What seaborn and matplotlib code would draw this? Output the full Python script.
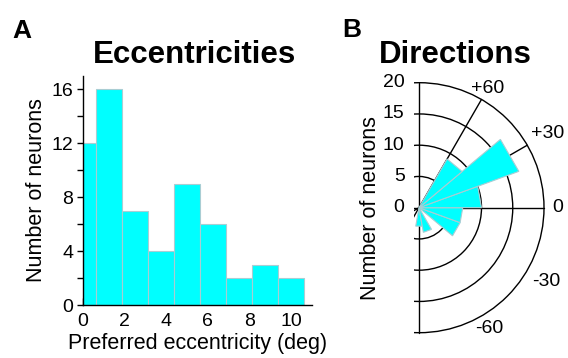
import numpy as np
import pandas as pd
import matplotlib
matplotlib.use("Agg")
import matplotlib.pyplot as plt
from matplotlib.patches import Circle
import seaborn as sns

# Panel A: histogram of preferred eccentricities (bin centres in deg, counts)
ecc_centers = [0.0, 1.25, 2.5, 3.75, 5.0, 6.25, 7.5, 8.75, 10.0]
ecc_counts = [12, 16, 7, 4, 9, 6, 2, 3, 2]
ecc_bin_width = 1.25
ecc_xticks = [0, 2, 4, 6, 8, 10]
ecc_yticks = [0, 4, 8, 12, 16]

# Panel B: rose histogram of preferred directions (lower bin edge in deg, counts)
dir_bin_start = [-100, -80, -60, -40, -20, 0, 20, 40, 60, 80]
dir_bin_width = 20
dir_counts = [3, 4, 0, 7, 7, 10, 17, 9, 0, 0]
dir_rings = [5, 10, 15, 20]
dir_spokes = [0, 30, 60, 90]
dir_angle_labels = ["-60", "-30", "0", "+30", "+60"]
dir_angle_values = [-60, -30, 0, 30, 60]

sns.set_theme(style="ticks")
plt.rcParams["font.family"] = ["Liberation Sans", "DejaVu Sans"]
plt.rcParams.update({"text.color": "black", "axes.labelcolor": "black",
                     "xtick.color": "black", "ytick.color": "black",
                     "axes.edgecolor": "black"})

CYAN = "#00ffff"
EDGE = "#a9cdd3"
W, H = 568, 358

fig = plt.figure(figsize=(W / 100, H / 100), dpi=100)
fig.patch.set_facecolor("white")

# ---------------- Panel A ----------------
ax1 = fig.add_axes([82.7 / W, (H - 305) / H, 229 / W, 229 / H])
ecc_df = pd.DataFrame({"ecc": ecc_centers, "n": ecc_counts})
edges = [c - ecc_bin_width / 2 for c in ecc_centers] + \
        [ecc_centers[-1] + ecc_bin_width / 2]
sns.histplot(data=ecc_df, x="ecc", weights="n", bins=edges, color=CYAN,
             edgecolor=EDGE, linewidth=0.8, alpha=1, ax=ax1)
ax1.set_xlim(0, 11)
ax1.set_ylim(0, 17)
ax1.set_xticks(ecc_xticks)
ax1.set_yticks(ecc_yticks)
ax1.set_yticks([2, 6, 10, 14], minor=True)
ax1.tick_params(axis="x", direction="in", length=4.8, width=1, pad=6,
                labelsize=14, color="black", labelcolor="black")
ax1.tick_params(axis="y", which="both", direction="out", length=4.3, width=1,
                pad=2.5, labelsize=14, color="black", labelcolor="black")
for side in ("top", "right"):
    ax1.spines[side].set_visible(False)
for side in ("left", "bottom"):
    ax1.spines[side].set_linewidth(1.0)
    ax1.spines[side].set_color("black")
ax1.set_xlabel("Preferred eccentricity (deg)", fontsize=15.5, labelpad=2,
               color="black")
ax1.set_ylabel("Number of neurons", fontsize=15.5, labelpad=3, color="black")
ax1.set_facecolor("white")

# ---------------- Panel B ----------------
ppu = 6.25                     # pixels per count unit
cx, cy = 419.0, 207.7          # pole position in pixels
x0, x1, yr = -0.8, 20.5, 20.5
ax2 = fig.add_axes([(cx + x0 * ppu) / W, (H - (cy + yr * ppu)) / H,
                    (x1 - x0) * ppu / W, 2 * yr * ppu / H])
ax2.set_xlim(x0, x1)
ax2.set_ylim(-yr, yr)
ax2.set_aspect("equal")
ax2.axis("off")

for r in dir_rings:
    ax2.add_patch(Circle((0, 0), r, fill=False, lw=1.0, ec="black", zorder=1))
rmax = max(dir_rings)
for a in dir_spokes:
    t = np.deg2rad(a)
    ax2.plot([-rmax * np.cos(t), rmax * np.cos(t)],
             [-rmax * np.sin(t), rmax * np.sin(t)],
             color="black", lw=1.0, zorder=1)

for start, n in zip(dir_bin_start, dir_counts):
    if n == 0:
        continue
    t1, t2 = np.deg2rad(start), np.deg2rad(start + dir_bin_width)
    ax2.fill([0, n * np.cos(t1), n * np.cos(t2)],
             [0, n * np.sin(t1), n * np.sin(t2)],
             facecolor=CYAN, edgecolor=EDGE, lw=0.8, zorder=3)

for r in [0] + dir_rings:
    ax2.text(-2.3, r, str(r), ha="right", va="center", fontsize=14,
             color="black", clip_on=False)

label_r = {-60: 22.4, -30: 23.5, 0: 22.2, 30: 23.8, 60: 22.0}
for lab, a in zip(dir_angle_labels, dir_angle_values):
    t = np.deg2rad(a)
    rr = label_r[a]
    ax2.text(rr * np.cos(t), rr * np.sin(t), lab, ha="center", va="center",
             fontsize=14, color="black", clip_on=False)

ax2.text(-7.8, 0, "Number of neurons", rotation=90, ha="center",
         va="center", fontsize=15.5, color="black", clip_on=False)

# ---------------- Titles and panel letters ----------------
fig.text(194.5 / W, 1 - 63.3 / H, "Eccentricities", ha="center",
         va="baseline", fontsize=22.5, fontweight="bold", color="black")
fig.text(455 / W, 1 - 63.3 / H, "Directions", ha="center",
         va="baseline", fontsize=22.5, fontweight="bold", color="black")
fig.text(12 / W, 1 - 38.3 / H, "A", ha="left", va="baseline",
         fontsize=19, fontweight="bold", color="black")
fig.text(342 / W, 1 - 36.7 / H, "B", ha="left", va="baseline",
         fontsize=19, fontweight="bold", color="black")

fig.savefig("out.png", dpi=100, facecolor="white")
